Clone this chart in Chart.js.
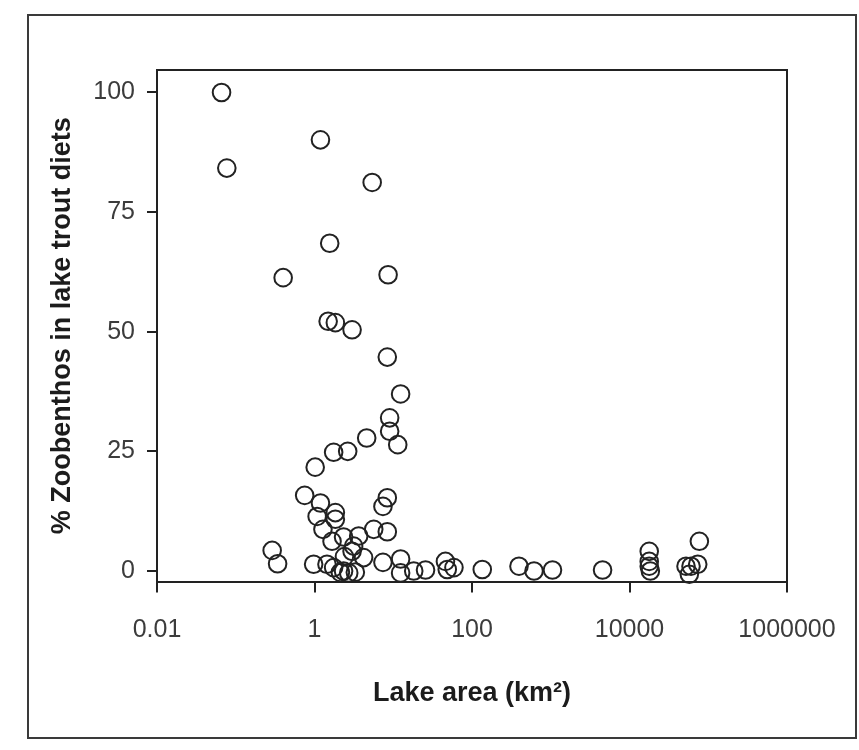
<!DOCTYPE html>
<html>
<head>
<meta charset="utf-8">
<script src="https://cdn.jsdelivr.net/npm/chart.js@4.4.1/dist/chart.umd.min.js"></script>
<style>
  html, body { margin: 0; padding: 0; background: #fff; }
  #wrap { position: relative; width: 859px; height: 750px; }
  #frame { position: absolute; left: 27px; top: 14px; width: 826px; height: 721px; border: 2px solid #3a3a3a; }
  #lakeChart { position: absolute; left: 0; top: 0; }
</style>
</head>
<body>
<div id="wrap">
  <div id="frame"></div>
  <canvas id="lakeChart" width="859" height="750"></canvas>
</div>
<script type="text/javascript">
  // lake area (km2) and % zoobenthos in lake trout diets
  var lakeArea = [
    0.066, 1.19, 0.077, 5.4, 1.56, 0.40, 8.6, 1.49, 1.84, 3.0,
    8.4, 12.4, 9.0, 9.0, 11.4, 4.6, 1.75, 2.64, 1.02, 0.75,
    8.4, 7.4, 1.19, 1.08, 1.84, 1.84, 1.28, 5.65, 8.4, 2.34,
    3.64, 1.67, 3.14, 0.29, 0.34, 0.975, 1.44, 1.75, 4.2, 7.4,
    12.4, 12.4, 2.34, 2.72, 3.3, 18.2, 25.7, 46, 48.5, 59,
    135, 395, 613, 1052, 4550, 17800, 17800, 17800, 18400, 52200,
    60400, 57500, 77100, 73500, 2.4, 3.0, 2.13
  ];
  var zoobenthos = [
    100, 90.1, 84.2, 81.2, 68.5, 61.3, 61.9, 52.2, 51.9, 50.4,
    44.7, 37.0, 32.0, 29.2, 26.4, 27.8, 24.8, 25.0, 21.7, 15.8,
    15.3, 13.5, 14.2, 11.4, 12.2, 10.8, 8.7, 8.7, 8.2, 7.1,
    7.3, 6.2, 5.2, 4.3, 1.5, 1.4, 1.4, 0.7, 2.8, 1.8,
    2.5, -0.4, 0, -0.4, -0.25, 0, 0.2, 2.0, 0.3, 0.7,
    0.3, 1.0, 0, 0.2, 0.2, 4.1, 2.0, 1.0, 0, 1.0,
    1.0, -0.7, 6.2, 1.4, 3.0, 4.1, -0.3
  ];
  var xTicks = [0.01, 1, 100, 10000, 1000000];
  var xTickLabels = ["0.01", "1", "100", "10000", "1000000"];
  var yTicks = [0, 25, 50, 75, 100];

  var points = lakeArea.map(function (a, i) { return { x: a, y: zoobenthos[i] }; });

  var ink = "#222";
  var txt = "#3c3c3c";
  var tickFont = { family: "'Liberation Sans', Arial, sans-serif", size: 25 };
  var titleFont = { family: "'Liberation Sans', Arial, sans-serif", size: 27, weight: "bold" };

  var chart = new Chart("lakeChart", {
    type: "scatter",
    data: {
      datasets: [
        {
          data: points,
          pointRadius: 8.8,
          pointHoverRadius: 8.8,
          pointBorderWidth: 2,
          pointBorderColor: ink,
          pointBackgroundColor: "rgba(0,0,0,0)",
          clip: false
        }
      ]
    },
    options: {
      responsive: false,
      animation: false,
      layout: { padding: { left: 46, top: 70, right: 72, bottom: 40 } },
      plugins: {
        legend: { display: false },
        tooltip: { enabled: false }
      },
      scales: {
        x: {
          type: "logarithmic",
          position: "bottom",
          min: 0.01,
          max: 1000000,
          afterBuildTicks: function (s) { s.ticks = xTicks.map(function (v) { return { value: v }; }); },
          afterFit: function (s) { s.height = 128.5; },
          ticks: {
            color: txt,
            font: tickFont,
            padding: 23,
            maxRotation: 0,
            autoSkip: false,
            callback: function (v, i) { return xTickLabels[i]; }
          },
          grid: { drawOnChartArea: false, drawTicks: true, tickLength: 11, color: ink, lineWidth: 2 },
          border: { color: ink, width: 2 },
          title: { display: true, text: "Lake area (km²)", color: "#1c1c1c", font: titleFont, padding: 0 }
        },
        y: {
          position: "left",
          min: -2.2,
          max: 104.7,
          afterBuildTicks: function (s) { s.ticks = yTicks.map(function (v) { return { value: v }; }); },
          afterFit: function (s) { s.width = 111; },
          ticks: { color: txt, font: tickFont, padding: 12 },
          grid: { drawOnChartArea: false, drawTicks: true, tickLength: 10, color: ink, lineWidth: 2 },
          border: { color: ink, width: 2 },
          title: { display: true, text: "% Zoobenthos in lake trout diets", color: "#1c1c1c", font: titleFont, padding: 0 }
        },
        xTop: {
          type: "linear",
          position: "top",
          afterFit: function (s) { s.height = 0; },
          ticks: { display: false },
          grid: { display: false },
          border: { color: ink, width: 2 }
        },
        yRight: {
          type: "linear",
          position: "right",
          afterFit: function (s) { s.width = 0; },
          ticks: { display: false },
          grid: { display: false },
          border: { color: ink, width: 2 }
        }
      }
    }
  });
</script>
</body>
</html>
